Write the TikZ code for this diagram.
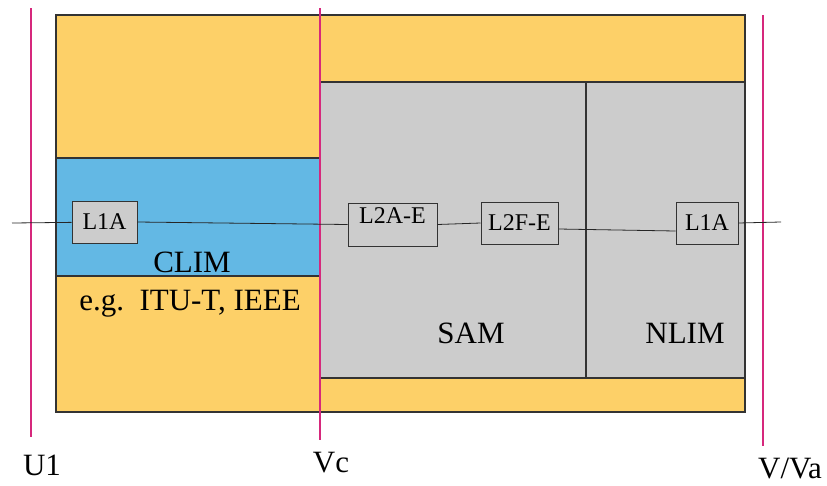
\documentclass[tikz,border=0pt]{standalone}
\usepackage{fontspec}
\setmainfont{Liberation Serif}
\usepackage{tikz}
\definecolor{climorange}{RGB}{253,208,104}
\definecolor{climblue}{RGB}{99,184,228}
\definecolor{samgrey}{RGB}{204,204,204}
\definecolor{refpink}{RGB}{214,40,124}

\begin{document}
\begin{tikzpicture}[x=1pt, y=-1pt,
    area/.style={draw=black!80, line width=1.1pt},
    blk/.style={draw=black!80, fill=samgrey, line width=1pt, inner sep=0pt,
        font=\fontsize{24}{26}\selectfont},
    lbl/.style={font=\fontsize{31}{33}\selectfont, inner sep=0pt},
    refline/.style={draw=refpink, line width=1.3pt},
    wire/.style={draw=black!85, line width=0.8pt}
]
\useasboundingbox (0,0) rectangle (827,485);
%% ============================================================
%% AREAS: outer frame, CLIM band, SAM / NLIM block
%% ============================================================
\draw[area, fill=climorange] (56,15) rectangle (745,412);
\draw[area, fill=climblue] (56,158) rectangle (320,276);
\draw[area, fill=samgrey] (320,82) rectangle (745,378);
\draw[area] (586,82) -- (586,378);
\node[lbl] (clim) at (192,262) {CLIM};
\node[lbl] (eg)   at (190,304) {e.g.\ \ ITU-T, IEEE};
\node[lbl] (sam)  at (471,333) {SAM};
\node[lbl] (nlim) at (685,333) {NLIM};
%% ============================================================
%% REFERENCE POINTS: U1, Vc, V/Va
%% ============================================================
\coordinate (u1top) at (31,8);
\coordinate (u1bot) at (31,437);
\coordinate (vctop) at (320,8);
\coordinate (vcbot) at (320,440);
\coordinate (vatop) at (763,15);
\coordinate (vabot) at (763,446);
\draw[refline] (u1top) -- (u1bot);
\draw[refline] (vctop) -- (vcbot);
\draw[refline] (vatop) -- (vabot);
\node[lbl] (u1) at (42,465)  {U1};
\node[lbl] (vc) at (331,463) {Vc};
\node[lbl] (va) at (790,469) {V/Va};
%% ============================================================
%% FUNCTION BLOCKS and the path through them
%% ============================================================
\node[blk, minimum width=65, minimum height=42] (l1a) at (104.5,222) {L1A};
\node[blk, minimum width=89, minimum height=43, text depth=18pt] (l2ae) at (392.5,224.5) {L2A-E};
\node[blk, minimum width=77, minimum height=42] (l2fe) at (519.5,223) {L2F-E};
\node[blk, minimum width=62, minimum height=42] (l1an) at (707,223) {L1A};
\coordinate (pathin)  at (12,223);
\coordinate (pathout) at (781,222);
\draw[wire] (pathin) -- (l1a);
\draw[wire] (l1a.east) -- (l2ae.west);
\draw[wire] (l2ae.east) -- (l2fe.west);
\draw[wire] ([yshift=-6pt]l2fe.east) -- ([yshift=-8pt]l1an.west);
\draw[wire] (l1an.east) -- (pathout);
\end{tikzpicture}
\end{document}
